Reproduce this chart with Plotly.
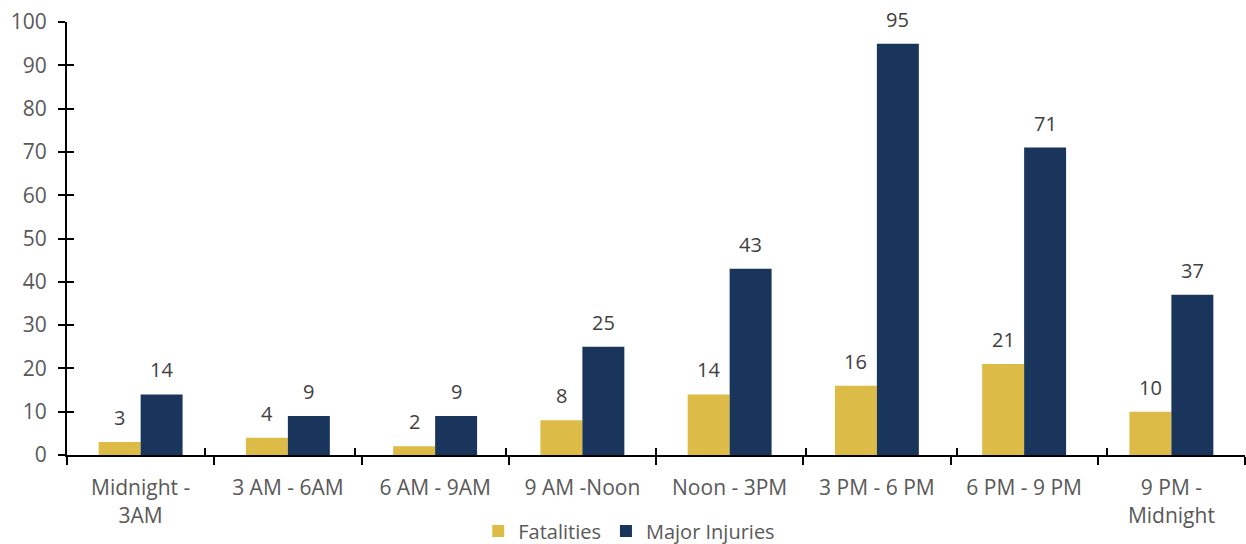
import plotly.graph_objects as go

categories = ["Midnight -<br>3AM", "3 AM - 6AM", "6 AM - 9AM", "9 AM -Noon",
              "Noon - 3PM", "3 PM - 6 PM", "6 PM - 9 PM", "9 PM -<br>Midnight"]
fatalities = [3, 4, 2, 8, 14, 16, 21, 10]
major_injuries = [14, 9, 9, 25, 43, 95, 71, 37]

FONT = "Open Sans"
GREY = "#595959"
LABEL = "#404040"

fig = go.Figure()
fig.add_trace(go.Bar(name="Fatalities", x=categories, y=fatalities,
                     marker=dict(color="#DDBB47", line=dict(width=0))))
fig.add_trace(go.Bar(name="Major Injuries", x=categories, y=major_injuries,
                     marker=dict(color="#1A355B", line=dict(width=0))))
# invisible helper trace so the overlay axes carry inside tick marks
fig.add_trace(go.Scatter(x=categories, y=[None] * len(categories), xaxis="x2", yaxis="y2",
                         showlegend=False, hoverinfo="skip", mode="markers"))

# data labels
for series, xs in ((fatalities, -21), (major_injuries, 21)):
    for c, v in zip(categories, series):
        fig.add_annotation(x=c, y=v, text=str(v), showarrow=False, xref="x", yref="y",
                           xshift=xs, yshift=9, yanchor="bottom",
                           font=dict(size=20, color=LABEL, family=FONT))

fig.update_layout(
    width=1246, height=544,
    margin=dict(l=67, r=1, t=22, b=89),
    paper_bgcolor="white", plot_bgcolor="white",
    barmode="group", bargap=0.43, bargroupgap=0,
    font=dict(family=FONT, size=21, color=GREY),
    showlegend=True,
    legend=dict(orientation="h", xref="container", x=0.505, xanchor="center",
                yref="container", y=0.024, yanchor="middle",
                font=dict(size=20, color=GREY), itemwidth=30, tracegroupgap=0),
    xaxis=dict(showline=True, linecolor="black", linewidth=2, automargin=False,
               ticks="outside", tickson="boundaries", ticklen=8, tickcolor="black",
               tickwidth=2, tickfont=dict(size=21, color=GREY), showgrid=False,
               ticklabelstandoff=13),
    yaxis=dict(range=[0, 100], dtick=10, showline=True, linecolor="black", linewidth=2,
               ticks="outside", ticklen=7, tickcolor="black", tickwidth=2, automargin=False,
               showgrid=False, zeroline=False, tickfont=dict(size=21, color=GREY),
               ticklabelstandoff=7, ticklabeloverflow="allow"),
    xaxis2=dict(overlaying="x", anchor="y2", side="bottom", ticks="inside",
                tickson="boundaries", ticklen=7, tickcolor="black", tickwidth=2,
                showticklabels=False, showgrid=False, showline=False, automargin=False,
                categoryorder="array", categoryarray=categories),
    yaxis2=dict(overlaying="y", anchor="x2", side="left", range=[0, 100], dtick=10,
                ticks="inside", ticklen=7, tickcolor="black", tickwidth=2,
                showticklabels=False, showgrid=False, zeroline=False, showline=False,
                automargin=False),
)

fig.write_html("out.html", config={"displayModeBar": False},
               post_script="document.body.style.margin='0px';")
